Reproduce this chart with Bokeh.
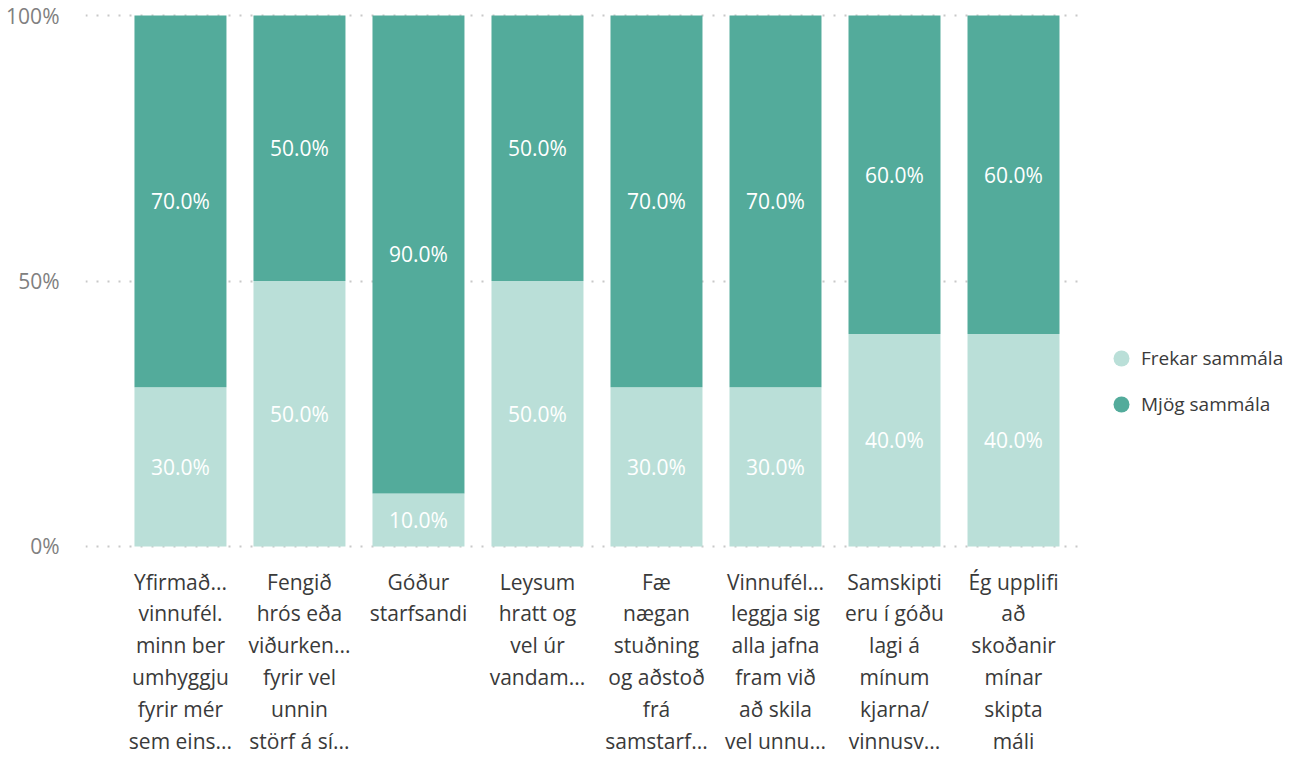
from bokeh.plotting import figure
from bokeh.models import (ColumnDataSource, FixedTicker, Legend, LegendItem,
                          PrintfTickFormatter, Range1d)
from bokeh.core.properties import value
from bokeh.embed import file_html
from bokeh.resources import INLINE

# ---- data ----
categories = [
    ["Yfirmað...", "vinnufél.", "minn ber", "umhyggju", "fyrir mér", "sem eins..."],
    ["Fengið", "hrós eða", "viðurken...", "fyrir vel", "unnin", "störf á sí..."],
    ["Góður", "starfsandi"],
    ["Leysum", "hratt og", "vel úr", "vandam..."],
    ["Fæ", "nægan", "stuðning", "og aðstoð", "frá", "samstarf..."],
    ["Vinnufél...", "leggja sig", "alla jafna", "fram við", "að skila", "vel unnu..."],
    ["Samskipti", "eru í góðu", "lagi á", "mínum", "kjarna/", "vinnusv..."],
    ["Ég upplifi", "að", "skoðanir", "mínar", "skipta", "máli"],
]
frekar = [30, 50, 10, 50, 30, 30, 40, 40]   # Frekar sammála (%)
mjog = [70, 50, 90, 50, 70, 70, 60, 60]     # Mjög sammála (%)
series_names = ["Frekar sammála", "Mjög sammála"]
y_ticks = [0, 50, 100]

LIGHT = "#BADFD8"
DARK = "#53AB9B"
FONT = "Open Sans"

xs = list(range(len(categories)))
src = ColumnDataSource(dict(
    x=xs,
    frekar=frekar,
    mjog=mjog,
    y_f=[f / 2 for f in frekar],
    y_m=[f + m / 2 for f, m in zip(frekar, mjog)],
    t_f=["%.1f%%" % f for f in frekar],
    t_m=["%.1f%%" % m for m in mjog],
))

p = figure(frame_width=1000, frame_height=537, output_backend="svg",
           toolbar_location=None,
           x_range=Range1d(-0.798, 7.605), y_range=Range1d(-0.565, 100.565),
           min_border_left=85, min_border_right=10, min_border_top=12,
           min_border_bottom=10)
p.outline_line_color = None
p.background_fill_color = "white"
p.border_fill_color = "white"

p.vbar_stack(["frekar", "mjog"], x="x", width=0.773, color=[LIGHT, DARK],
             line_color=None, source=src)

for ycol, tcol in (("y_f", "t_f"), ("y_m", "t_m")):
    p.text(x="x", y=ycol, text=tcol, source=src, text_color="white",
           text_align="center", text_baseline="middle", text_font_size="21px",
           text_font=value(FONT))

# grid
p.xgrid.grid_line_color = None
p.ygrid.ticker = FixedTicker(ticks=y_ticks)
p.ygrid.grid_line_color = "#C8C8C8"
p.ygrid.grid_line_dash = "2 9"
p.ygrid.grid_line_width = 2

# y axis
p.yaxis.ticker = FixedTicker(ticks=y_ticks)
p.yaxis.formatter = PrintfTickFormatter(format="%d%%")
p.yaxis.axis_line_color = None
p.yaxis.major_tick_line_color = None
p.yaxis.minor_tick_line_color = None
p.yaxis.major_label_text_font_size = "21px"
p.yaxis.major_label_text_color = "#808080"
p.yaxis.major_label_text_font = FONT
p.yaxis.major_label_standoff = 20

# x axis
p.xaxis.ticker = FixedTicker(ticks=xs)
p.xaxis.major_label_overrides = {i: "\n".join(c) for i, c in enumerate(categories)}
p.xaxis.axis_line_color = None
p.xaxis.major_tick_line_color = None
p.xaxis.minor_tick_line_color = None
p.xaxis.major_label_text_font_size = "21px"
p.xaxis.major_label_text_color = "#3A3A3A"
p.xaxis.major_label_text_font = FONT
p.xaxis.major_label_text_line_height = 1.14
p.xaxis.major_label_standoff = 12

# legend with circle glyphs (size-0 markers, legend glyph sized by box)
r1 = p.scatter(x="x", y="y_f", source=src, marker="circle", size=0,
               fill_color=LIGHT, line_color=None)
r2 = p.scatter(x="x", y="y_m", source=src, marker="circle", size=0,
               fill_color=DARK, line_color=None)
legend = Legend(items=[LegendItem(label=series_names[0], renderers=[r1]),
                       LegendItem(label=series_names[1], renderers=[r2])],
                location=(16, 122), orientation="vertical",
                glyph_width=40, glyph_height=46, label_height=46, spacing=0,
                label_standoff=0, padding=0, margin=0,
                border_line_color=None, background_fill_alpha=0,
                label_text_font_size="19px", label_text_color="#3A3A3A",
                label_text_font=FONT)
p.add_layout(legend, "right")

open("out.html", "w").write(file_html(p, INLINE))
